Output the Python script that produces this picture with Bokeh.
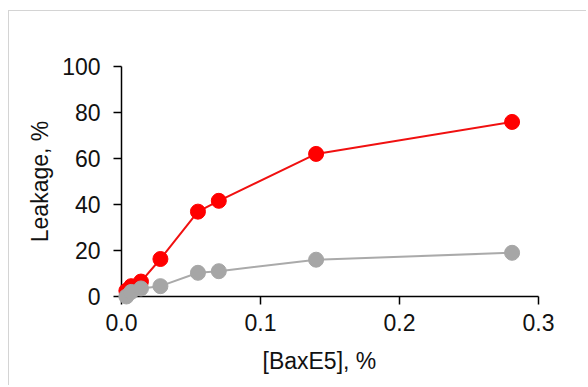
from bokeh.plotting import figure
from bokeh.models import FixedTicker, PrintfTickFormatter, Range1d, Title
from bokeh.embed import file_html
from bokeh.resources import INLINE

conc = [0.0035, 0.007, 0.014, 0.028, 0.055, 0.07, 0.14, 0.281]
leak_red = [2.5, 4.5, 6.5, 16.3, 36.9, 41.6, 62.0, 75.9]
leak_grey = [0.0, 2.0, 3.5, 4.5, 10.3, 11.0, 16.0, 19.0]
x_ticks = [0.0, 0.1, 0.2, 0.3]
y_ticks = [0, 20, 40, 60, 80, 100]
x_label = "[BaxE5], %"
y_label = "Leakage, %"

FONT = "Liberation Sans"

p = figure(width=578, height=375, output_backend="svg", toolbar_location=None,
           x_range=Range1d(0, 0.3), y_range=Range1d(0, 100),
           min_border_left=112, min_border_right=49, min_border_top=55, min_border_bottom=89)
p.styles = {"border-top": "1px solid #d4d4d4", "border-left": "1px solid #d4d4d4",
            "margin-top": "10px", "margin-left": "8px"}
p.xgrid.visible = False
p.ygrid.visible = False
p.outline_line_color = None
p.background_fill_color = "white"

renderers = [
    p.line(conc, leak_red, line_color="#f01010", line_width=2),
    p.scatter(conc, leak_red, size=15, fill_color="#ff0000", line_color="#ff0000"),
    p.line(conc, leak_grey, line_color="#aaaaaa", line_width=2),
    p.scatter(conc, leak_grey, size=15, fill_color="#a6a6a6", line_color="#a6a6a6"),
]
for r in renderers:
    r.level = "overlay"

for ax in (p.xaxis[0], p.yaxis[0]):
    ax.axis_line_color = "black"
    ax.axis_line_width = 1.5
    ax.major_tick_line_color = "black"
    ax.major_tick_line_width = 1.5
    ax.major_tick_out = 8
    ax.major_tick_in = 0
    ax.minor_tick_line_color = None
    ax.major_label_text_font = FONT
    ax.major_label_text_font_size = "23px"
    ax.major_label_text_color = "#111111"
    ax.axis_label_text_font = FONT
    ax.axis_label_text_font_size = "23px"
    ax.axis_label_text_font_style = "normal"
    ax.axis_label_text_color = "#111111"

p.xaxis[0].ticker = FixedTicker(ticks=x_ticks)
p.xaxis[0].formatter = PrintfTickFormatter(format="%.1f")
p.xaxis[0].major_label_standoff = 9

xt = Title(text=x_label, align="left", offset=141, standoff=25,
           text_font=FONT, text_font_size="23px", text_font_style="normal",
           text_color="#111111")
p.add_layout(xt, "below")

p.yaxis[0].ticker = FixedTicker(ticks=y_ticks)
p.yaxis[0].axis_label = y_label
p.yaxis[0].major_label_standoff = 13
p.yaxis[0].axis_label_standoff = 6

open("out.html", "w").write(file_html(p, INLINE))
